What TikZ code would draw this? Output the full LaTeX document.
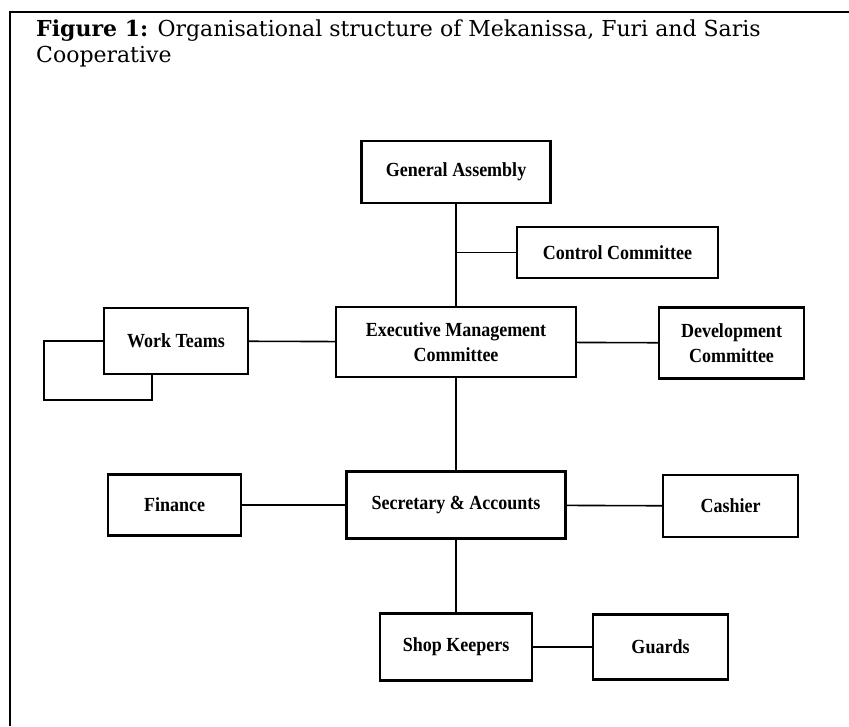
\documentclass[tikz,border=0pt]{standalone}
\usepackage{fontspec}
\newfontfamily\titlefont{DejaVu Serif}
\newfontfamily\boxfont{Liberation Serif Bold}[FakeStretch=0.9]
\usetikzlibrary{positioning}

\begin{document}
\begin{tikzpicture}[x=1pt,y=1pt,
    unit/.style={draw,line width=2.2pt,align=center,inner sep=0pt,
        font=\boxfont\fontsize{20}{25}\selectfont},
    link/.style={line width=1.6pt}]
\useasboundingbox (0,0) rectangle (849,-726);
\draw[line width=2.6pt] (10,-726) -- (10,-12) -- (849,-12);
\node (title) [anchor=north west,align=left,inner sep=0pt,
    font=\titlefont\fontsize{22}{26}\selectfont] at (36,-20)
    {\textbf{Figure 1:} Organisational structure of Mekanissa, Furi and Saris\\Cooperative};

\node (ga) [unit,minimum width=189pt,minimum height=62pt] at (456,-172) {General Assembly};
\node (cc) [unit,minimum width=201pt,minimum height=51pt] at (617.5,-252.5) {Control Committee};
\node (emc) [unit,minimum width=240pt,minimum height=70pt] at (456,-342) {Executive Management\\Committee};
\node (dev) [unit,minimum width=145pt,minimum height=71pt] at (731.5,-343) {Development\\Committee};
\node (wt) [unit,minimum width=144pt,minimum height=66pt] at (176,-341) {Work Teams};
\node (fin) [unit,minimum width=133pt,minimum height=61pt] at (174.5,-505) {Finance};
\node (sec) [unit,minimum width=219pt,minimum height=67pt] at (456,-505) {Secretary \& Accounts};
\node (cash) [unit,minimum width=135pt,minimum height=62pt] at (730.5,-506) {Cashier};
\node (shop) [unit,minimum width=152pt,minimum height=67pt] at (456,-647) {Shop Keepers};
\node (guard) [unit,minimum width=135pt,minimum height=65pt] at (660.5,-647) {Guards};

\draw[link] (ga) -- (emc);
\draw[link] (cc.west) -- (cc.west -| ga.south);
\draw[link] (emc) -- (dev);
\draw[link] (wt) -- (emc);
\draw[link] (wt.west) -- ++(-59,0) -- ++(0,-59) -| ([xshift=-24pt]wt.south);
\draw[link] (emc) -- (sec);
\draw[link] (fin) -- (sec);
\draw[link] (sec) -- (cash);
\draw[link] (sec) -- (shop);
\draw[link] (shop) -- (guard);
\end{tikzpicture}
\end{document}
